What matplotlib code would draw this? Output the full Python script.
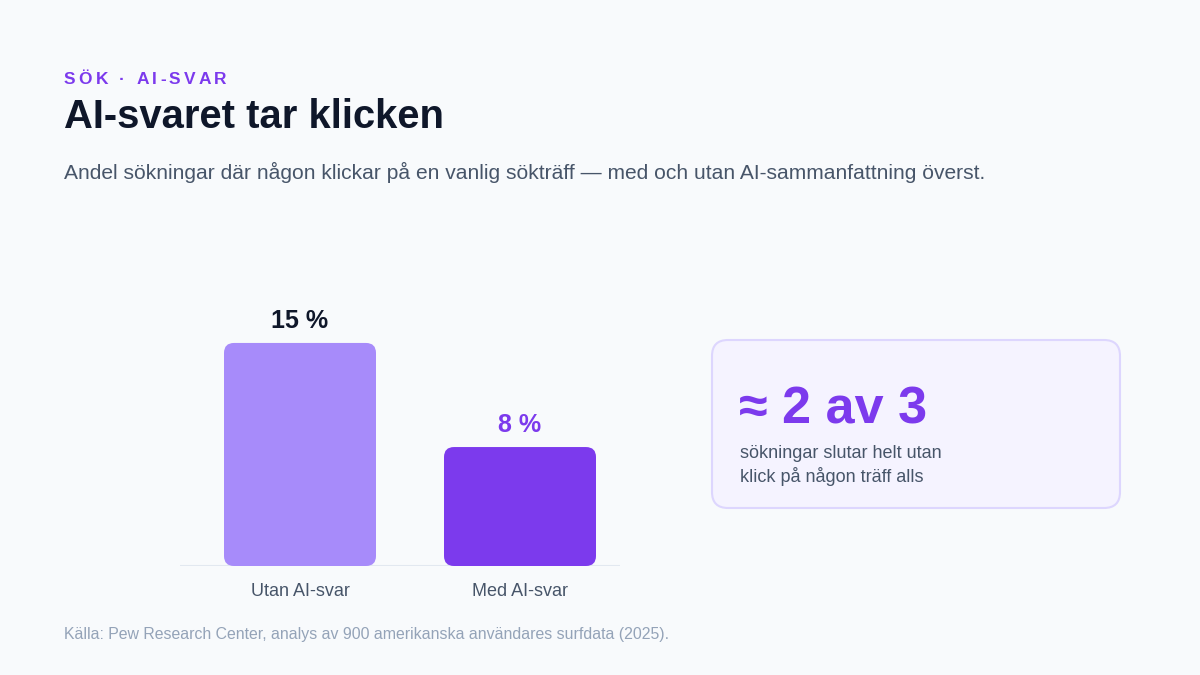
import matplotlib
matplotlib.use("Agg")
import matplotlib.pyplot as plt
from matplotlib.patches import FancyBboxPatch
from matplotlib.font_manager import FontProperties

# ---- data ----
categories = ["Utan AI-svar", "Med AI-svar"]
values = [15, 8]
value_labels = ["15 %", "8 %"]
bar_colors = ["#a78bfa", "#7c3aed"]
label_colors = ["#0f172a", "#7c3aed"]

kicker = "SÖK · AI-SVAR"
title = "AI-svaret tar klicken"
subtitle = "Andel sökningar där någon klickar på en vanlig sökträff — med och utan AI-sammanfattning överst."
callout_big = "≈ 2 av 3"
callout_lines = ["sökningar slutar helt utan", "klick på någon träff alls"]
source = "Källa: Pew Research Center, analys av 900 amerikanska användares surfdata (2025)."

FONT = ["Liberation Sans", "DejaVu Sans"]
plt.rcParams["font.family"] = FONT

W, H = 1200, 675
BG = "#f8fafc"
fig = plt.figure(figsize=(W / 100, H / 100), dpi=100, facecolor=BG)

# overlay axes in pixel coordinates (y downward)
ov = fig.add_axes([0, 0, 1, 1], zorder=0)
ov.set_xlim(0, W)
ov.set_ylim(H, 0)
ov.axis("off")
ov.patch.set_alpha(0)

# ---- chart axes ----
px_per_unit = 14.87
ymax = 18
base_y = 566
ax_left, ax_right = 180, 620
ax = fig.add_axes([ax_left / W, (H - base_y) / H, (ax_right - ax_left) / W,
                   ymax * px_per_unit / H], zorder=1)
ax.set_facecolor("none")
xpos = list(range(len(categories)))
ax.set_xlim(-120 / 220, 1 + 100 / 220)
ax.set_ylim(0, ymax)
bar_w = 152 / 220
bars = ax.bar(xpos, values, width=bar_w, color=bar_colors)
r_px = 10
aspect = 220 / px_per_unit
for b, c in zip(bars, bar_colors):
    x0, y0 = b.get_x(), b.get_y()
    w, h = b.get_width(), b.get_height()
    b.remove()
    p = FancyBboxPatch((x0, y0), w, h,
                       boxstyle=f"round,pad=0,rounding_size={r_px / 220}",
                       mutation_aspect=aspect, facecolor=c, edgecolor="none",
                       zorder=2)
    ax.add_patch(p)
ax.axhline(0, color="#e2e8f0", lw=1.5, zorder=1)
for x, v, lab, lc in zip(xpos, values, value_labels, label_colors):
    ax.annotate(lab, xy=(x, v), xytext=(0, 10.5), textcoords="offset points",
                ha="center", va="baseline", fontsize=18, fontweight="bold",
                color=lc)
ax.set_xticks(xpos)
ax.set_xticklabels(categories, fontsize=13, color="#475569")
ax.tick_params(axis="x", length=0, pad=12.5)
ax.set_yticks([])
for s in ax.spines.values():
    s.set_visible(False)

# ---- texts ----
renderer = fig.canvas.get_renderer()
kp = FontProperties(family=FONT, weight="bold", size=12.5)
x = 64
for ch in kicker:
    ov.text(x, 84, ch, fontproperties=kp, color="#7c3aed", va="baseline", ha="left")
    w, _, _ = renderer.get_text_width_height_descent(ch if ch != " " else "a a", kp, ismath=False)
    if ch == " ":
        wa, _, _ = renderer.get_text_width_height_descent("aa", kp, ismath=False)
        w = w - wa
    x += w + 3.2

ov.text(64, 128, title, fontsize=28.8, fontweight="bold", color="#0f172a",
        va="baseline", ha="left")
ov.text(64, 179, subtitle, fontsize=15.1, color="#475569", va="baseline", ha="left")

card = FancyBboxPatch((712, 340), 408, 168, boxstyle="round,pad=0,rounding_size=16",
                      facecolor="#f5f3ff", edgecolor="#ddd6fe", lw=1.5, zorder=1)
ov.add_patch(card)
ov.text(739, 424, callout_big, fontsize=37.5, fontweight="bold", color="#7c3aed",
        va="baseline", ha="left", zorder=2)
ov.text(740, 458, callout_lines[0], fontsize=13, color="#475569", va="baseline",
        ha="left", zorder=2)
ov.text(740, 482, callout_lines[1], fontsize=13, color="#475569", va="baseline",
        ha="left", zorder=2)

ov.text(64, 639, source, fontsize=11.45, color="#94a3b8", va="baseline", ha="left")

fig.savefig("out.png", dpi=100, facecolor=BG)
